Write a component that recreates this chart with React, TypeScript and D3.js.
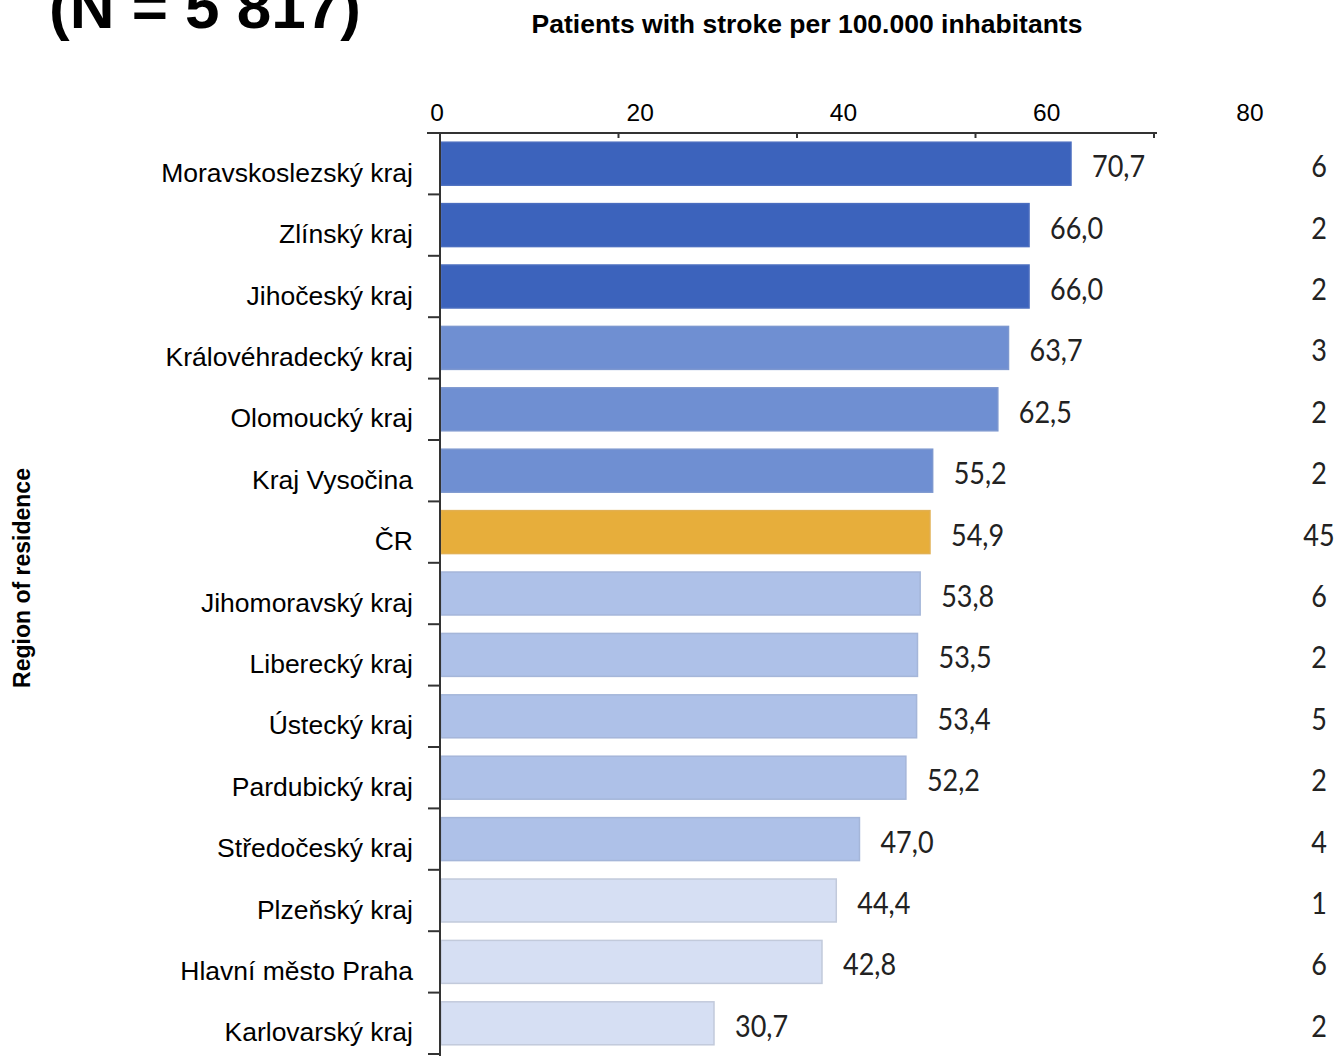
import React from "react";
import * as d3 from "d3";

const categories = [
  "Moravskoslezský kraj",
  "Zlínský kraj",
  "Jihočeský kraj",
  "Královéhradecký kraj",
  "Olomoucký kraj",
  "Kraj Vysočina",
  "ČR",
  "Jihomoravský kraj",
  "Liberecký kraj",
  "Ústecký kraj",
  "Pardubický kraj",
  "Středočeský kraj",
  "Plzeňský kraj",
  "Hlavní město Praha",
  "Karlovarský kraj",
];
const values = [70.7, 66.0, 66.0, 63.7, 62.5, 55.2, 54.9, 53.8, 53.5, 53.4, 52.2, 47.0, 44.4, 42.8, 30.7];
const counts = ["6", "2", "2", "3", "2", "2", "45", "6", "2", "5", "2", "4", "1", "6", "2"];
const groups = ["g1", "g1", "g1", "g2", "g2", "g2", "cr", "g3", "g3", "g3", "g3", "g3", "g4", "g4", "g4"];
const tickValues = [0, 20, 40, 60, 80];

const groupColors: Record<string, string> = {
  g1: "#3c63bc",
  g2: "#6f8fd2",
  cr: "#e7ae3b",
  g3: "#aec1e8",
  g4: "#d6dff3",
};
const groupStroke: Record<string, string> = {
  g1: "#4a6dbf",
  g2: "#7c97cf",
  cr: "#e2b052",
  g3: "#a5b6d9",
  g4: "#c2cadb",
};

const W = 1337;
const H = 1056;

export default function App() {
  const x = d3.scaleLinear().domain([0, 80]).range([440, 1154]);
  const xLabel = d3.scaleLinear().domain([0, 80]).range([437, 1250]);
  const y = d3
    .scaleBand<string>()
    .domain(categories)
    .range([133, 1054])
    .paddingInner(0.3)
    .paddingOuter(0.15);
  const step = y.step();
  const axisColor = "#333";
  const sans = "'Liberation Sans', Arial, sans-serif";
  const valFont = "Lato, 'Open Sans', sans-serif";

  return (
    <svg
      width={W}
      height={H}
      style={{ position: "absolute", left: 0, top: 0, display: "block", background: "#fff" }}
    >
      <text x={49} y={28} fontFamily={sans} fontWeight="bold" fontSize={62} fill="#000">
        (N = 5 817)
      </text>
      <text x={807} y={33} textAnchor="middle" fontFamily={sans} fontWeight="bold" fontSize={26.5} fill="#000">
        Patients with stroke per 100.000 inhabitants
      </text>
      <text
        transform={`translate(30, 578) rotate(-90)`}
        textAnchor="middle"
        fontFamily={sans}
        fontWeight="bold"
        fontSize={23}
        fill="#000"
      >
        Region of residence
      </text>

      {tickValues.map((t) => (
        <text key={"tl" + t} x={xLabel(t)} y={121} textAnchor="middle" fontFamily={sans} fontSize={24.5} fill="#000">
          {t}
        </text>
      ))}

      {categories.map((c, i) => {
        const y0 = y(c)!;
        const bw = y.bandwidth();
        const cy = y0 + bw / 2;
        const g = groups[i];
        const xe = x(values[i]);
        return (
          <g key={c}>
            <rect
              x={x(0) + 1}
              y={y0}
              width={xe - x(0) - 1}
              height={bw}
              fill={groupColors[g]}
              stroke={groupStroke[g]}
              strokeWidth={1.5}
            />
            <text x={413} y={cy + 18} textAnchor="end" fontFamily={sans} fontSize={26.5} fill="#000">
              {c}
            </text>
            <text
              transform={`translate(${xe + 21}, ${cy + 13.5}) scale(0.9,1)`}
              fontFamily={valFont}
              fontSize={30}
              fill="#222"
            >
              {d3.format(".1f")(values[i]).replace(".", ",")}
            </text>
            <text
              transform={`translate(1319, ${cy + 13.5}) scale(0.9,1)`}
              textAnchor="middle"
              fontFamily={valFont}
              fontSize={30}
              fill="#222"
            >
              {counts[i]}
            </text>
          </g>
        );
      })}

      {/* top axis */}
      <line x1={427} x2={x(80) + 3} y1={133} y2={133} stroke={axisColor} strokeWidth={2} />
      {tickValues.map((t) => (
        <line key={"tk" + t} x1={x(t)} x2={x(t)} y1={133} y2={138} stroke={axisColor} strokeWidth={2} />
      ))}
      {/* left axis */}
      <line x1={440} x2={440} y1={133} y2={H} stroke={axisColor} strokeWidth={2} />
      {categories.map((c, i) => (
        <line
          key={"yt" + i}
          x1={428}
          x2={440}
          y1={133 + (i + 1) * step}
          y2={133 + (i + 1) * step}
          stroke={axisColor}
          strokeWidth={2}
        />
      ))}
    </svg>
  );
}
